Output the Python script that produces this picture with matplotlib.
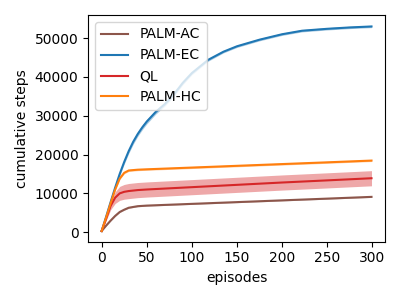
import numpy as np
import matplotlib
matplotlib.use("Agg")
import matplotlib.pyplot as plt

# episode checkpoints and mean / spread of cumulative steps
ep_ac = [0, 5, 10, 15, 20, 25, 30, 40, 50, 100, 150, 200, 250, 299]
ac_mean = [300, 1700, 3000, 4200, 5200, 5800, 6300, 6700, 6850, 7300, 7750, 8200, 8650, 9100]
ac_std = [50, 100, 150, 150, 150, 150, 150, 150, 150, 150, 150, 150, 150, 150]

ep_ec = [0, 5, 10, 15, 20, 25, 30, 35, 40, 45, 50, 60, 70, 80, 90, 100, 118, 135, 150, 175, 200, 222, 250, 275, 299]
ec_mean = [300, 4000, 7800, 11500, 15000, 18100, 20900, 23300, 25300, 27000, 28500, 31000, 33000, 35500, 38500,
           41000, 44400, 46500, 47900, 49600, 51000, 51900, 52400, 52750, 53000]
ec_std = [50, 200, 300, 400, 500, 550, 600, 600, 600, 600, 600, 550, 500, 500, 450, 400, 350, 300, 300, 300,
          300, 300, 300, 300, 300]

ep_ql = [0, 5, 10, 15, 20, 25, 30, 40, 50, 100, 150, 200, 250, 299]
ql_mean = [300, 3500, 6800, 8900, 10000, 10400, 10600, 10850, 11000, 11600, 12200, 12800, 13350, 13900]
ql_std = [100, 500, 1000, 1500, 1800, 1900, 1950, 1950, 1950, 1950, 1950, 1950, 1950, 1950]

ep_hc = [0, 5, 10, 15, 20, 25, 30, 40, 50, 100, 150, 200, 250, 299]
hc_mean = [300, 3800, 7500, 11000, 13800, 15300, 15900, 16100, 16200, 16650, 17100, 17550, 18000, 18450]
hc_std = [50, 150, 200, 250, 250, 250, 250, 250, 250, 250, 250, 250, 250, 250]

series = [
    ("PALM-AC", ep_ac, ac_mean, ac_std, "tab:brown"),
    ("PALM-EC", ep_ec, ec_mean, ec_std, "tab:blue"),
    ("QL", ep_ql, ql_mean, ql_std, "tab:red"),
    ("PALM-HC", ep_hc, hc_mean, hc_std, "tab:orange"),
]

fig, ax = plt.subplots(figsize=(4, 3), dpi=100)
for name, ep, mean, std, color in series:
    mean = np.array(mean)
    std = np.array(std)
    ax.plot(ep, mean, color=color, label=name)
    ax.fill_between(ep, mean - std, mean + std, color=color, alpha=0.4, linewidth=0)

ax.set_xlabel("episodes")
ax.set_ylabel("cumulative steps")
ax.legend(loc="upper left")
plt.tight_layout()
plt.savefig("out.png")
